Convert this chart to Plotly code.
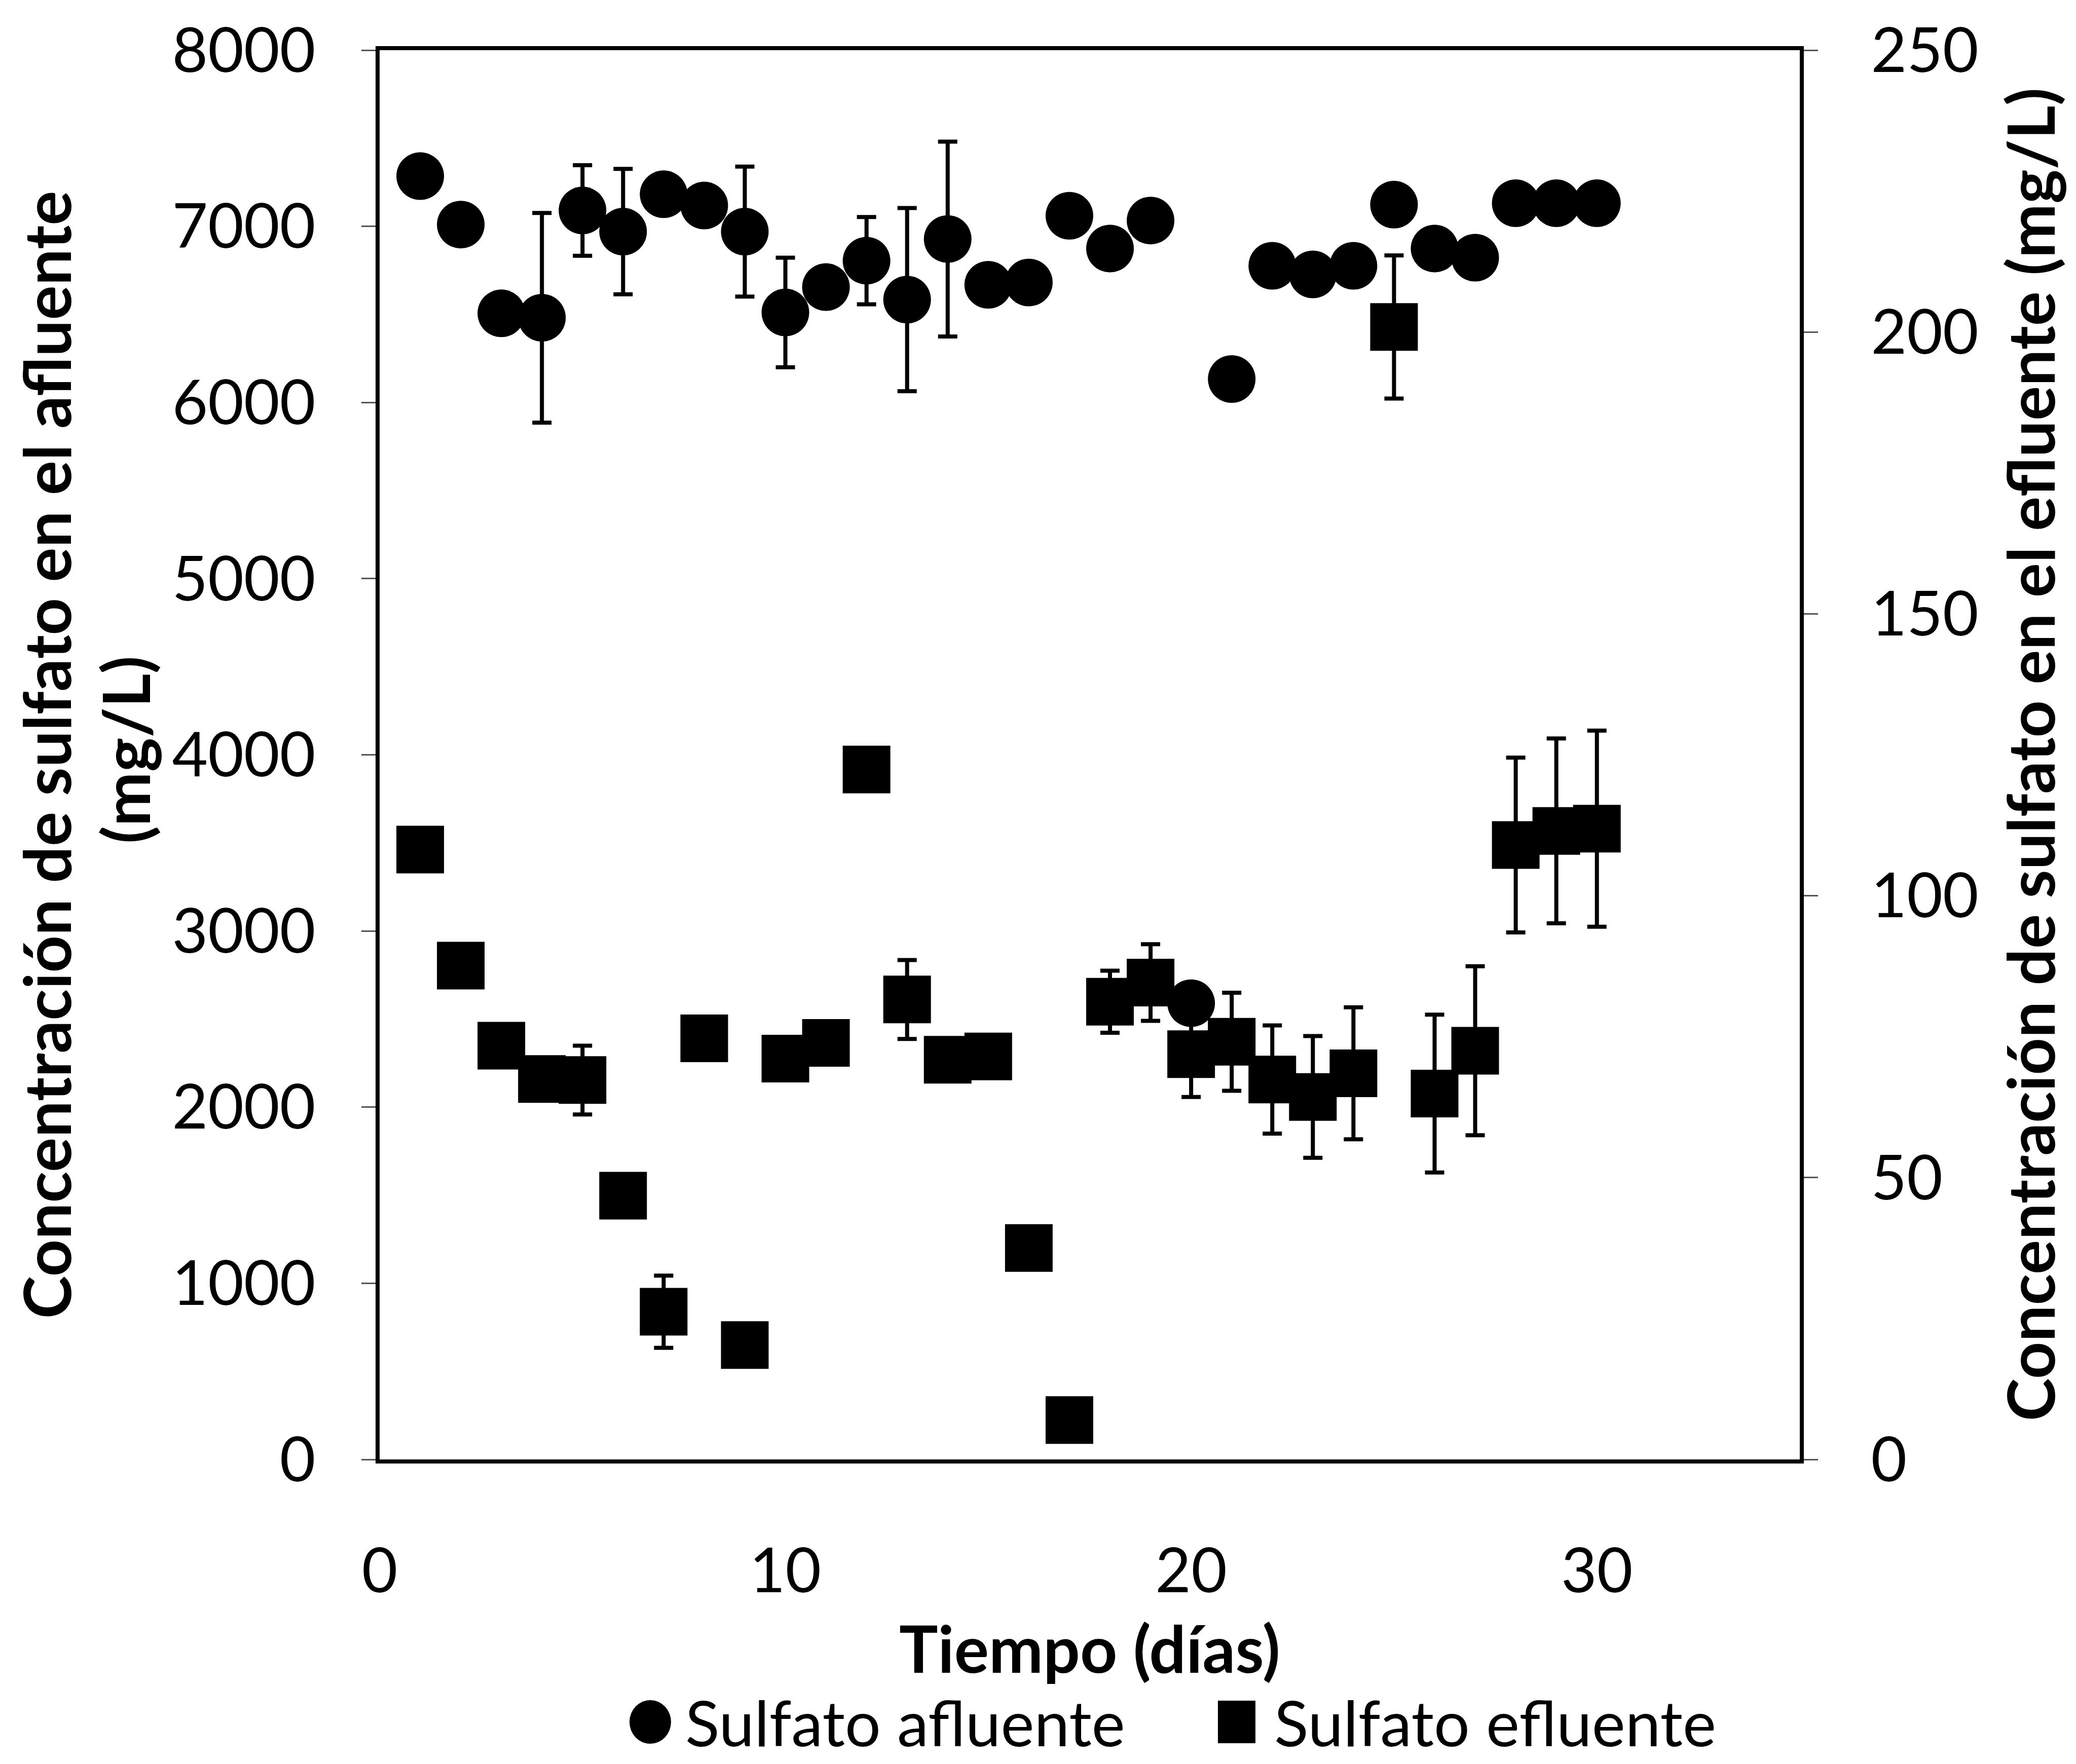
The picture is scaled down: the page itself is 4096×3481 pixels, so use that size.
import plotly.graph_objects as go

# ---------------- data ----------------
days = list(range(1, 31))

afluente = [7285, 7010, 6506, 6481, 7090, 6970, 7182, 7118, 6970, 6511,
            6655, 6805, 6584, 6928, 6668, 6681, 7060, 6874, 7033, 2590,
            6133, 6776, 6727, 6776, 7123, 6874, 6822, 7131, 7131, 7131]
afluente_err = [0, 0, 0, 595, 257, 356, 0, 0, 369, 311,
                0, 248, 520, 553, 0, 0, 0, 0, 0, 0,
                0, 0, 0, 0, 0, 0, 0, 0, 0, 0]

efluente = [108.2, 87.6, 73.4, 67.5, 67.3, 46.8, 26.2, 74.7, 20.3, 71.1,
            73.9, 122.4, 81.6, 70.9, 71.5, 37.5, 7.0, 81.2, 84.6, 71.9,
            74.1, 67.4, 64.3, 68.5, 200.9, 64.9, 72.5, 109.0, 111.5, 111.9]
efluente_err = [0, 0, 0, 0, 6.1, 0, 6.4, 0, 0, 0,
                0, 0, 7.0, 0, 0, 0, 0, 5.5, 6.8, 7.6,
                8.7, 9.6, 10.8, 11.7, 12.7, 14.0, 15.0, 15.5, 16.4, 17.4]

x_ticks = [0, 10, 20, 30]
y1_ticks = [0, 1000, 2000, 3000, 4000, 5000, 6000, 7000, 8000]
y2_ticks = [0, 50, 100, 150, 200, 250]

x_title = "Tiempo (días)"
y1_title_lines = ["Concentración de sulfato en el afluente", "(mg/L)"]
y2_title = "Concentración de sulfato en el efluente (mg/L)"
legend_names = ["Sulfato afluente", "Sulfato efluente"]

# ---------------- figure ----------------
W, H = 4096, 3481
L, R, T, B = 749, 545, 99, 601
pw, ph = W - L - R, H - T - B

FONT = "Lato"
TICK_SIZE = 122
TITLE_SIZE = 128
LEG_SIZE = 125

fig = go.Figure()

fig.add_trace(go.Scatter(
    x=days, y=efluente, mode="markers", name=legend_names[1],
    yaxis="y2",
    marker=dict(symbol="square", size=94, color="black", line=dict(width=0)),
    error_y=dict(type="data", array=efluente_err, visible=True,
                 color="black", thickness=8, width=19),
    showlegend=False,
))

fig.add_trace(go.Scatter(
    x=days, y=afluente, mode="markers", name=legend_names[0],
    marker=dict(symbol="circle", size=94, color="black", line=dict(width=0)),
    error_y=dict(type="data", array=afluente_err, visible=True,
                 color="black", thickness=8, width=19),
    showlegend=False,
))

def px_to_paper_x(px):
    return (px - L) / pw

def px_to_paper_y(py):
    return (H - B - py) / ph

LEG_Y = 3398

annotations = [
    dict(text="<b>" + x_title + "</b>", xref="paper", yref="paper",
         x=0.5, y=px_to_paper_y(3252), xanchor="center", yanchor="middle",
         showarrow=False, font=dict(family=FONT, size=TITLE_SIZE, color="black")),
    dict(text="<b>" + y1_title_lines[0] + "</b>", xref="paper", yref="paper",
         x=px_to_paper_x(90), y=0.5, xanchor="center", yanchor="middle",
         textangle=-90, showarrow=False,
         font=dict(family=FONT, size=TITLE_SIZE, color="black")),
    dict(text="<b>" + y1_title_lines[1] + "</b>", xref="paper", yref="paper",
         x=px_to_paper_x(246), y=px_to_paper_y(1480), xanchor="center", yanchor="middle",
         textangle=-90, showarrow=False,
         font=dict(family=FONT, size=TITLE_SIZE, color="black")),
    dict(text="<b>" + y2_title + "</b>", xref="paper", yref="paper",
         x=px_to_paper_x(4004), y=0.5, xanchor="center", yanchor="middle",
         textangle=-90, showarrow=False,
         font=dict(family=FONT, size=TITLE_SIZE, color="black")),
    dict(text=legend_names[0], xref="paper", yref="paper",
         x=px_to_paper_x(1350), y=px_to_paper_y(LEG_Y), xanchor="left", yanchor="middle",
         showarrow=False, font=dict(family=FONT, size=LEG_SIZE, color="black")),
    dict(text=legend_names[1], xref="paper", yref="paper",
         x=px_to_paper_x(2512), y=px_to_paper_y(LEG_Y), xanchor="left", yanchor="middle",
         showarrow=False, font=dict(family=FONT, size=LEG_SIZE, color="black")),
]

shapes = [
    dict(type="circle", xref="paper", yref="paper",
         x0=px_to_paper_x(1283 - 41), x1=px_to_paper_x(1283 + 41),
         y0=px_to_paper_y(LEG_Y + 43), y1=px_to_paper_y(LEG_Y - 43),
         fillcolor="black", line=dict(width=0)),
    dict(type="rect", xref="paper", yref="paper",
         x0=px_to_paper_x(2440 - 37), x1=px_to_paper_x(2440 + 37),
         y0=px_to_paper_y(LEG_Y + 42), y1=px_to_paper_y(LEG_Y - 42),
         fillcolor="black", line=dict(width=0)),
]

fig.update_layout(
    width=W, height=H,
    margin=dict(l=L, r=R, t=T, b=B, pad=0),
    paper_bgcolor="white", plot_bgcolor="white",
    font=dict(family=FONT, color="black"),
    showlegend=False,
    annotations=annotations,
    shapes=shapes,
    xaxis=dict(
        range=[0, 35], tickvals=x_ticks, ticktext=[str(v) for v in x_ticks],
        showgrid=False, zeroline=False,
        showline=True, linecolor="black", linewidth=8, mirror=True,
        ticks="", ticklabelstandoff=108,
        tickfont=dict(family=FONT, size=TICK_SIZE, color="black"),
    ),
    yaxis=dict(
        range=[0, 8000], tickvals=y1_ticks, ticktext=[str(v) for v in y1_ticks],
        showgrid=False, zeroline=False,
        showline=True, linecolor="black", linewidth=8,
        ticks="outside", ticklen=28, tickwidth=3, tickcolor="#555",
        ticklabelstandoff=66,
        tickfont=dict(family=FONT, size=TICK_SIZE, color="black"),
    ),
    yaxis2=dict(
        range=[0, 250], tickvals=y2_ticks, ticktext=[str(v) for v in y2_ticks],
        overlaying="y", side="right",
        showgrid=False, zeroline=False,
        showline=True, linecolor="black", linewidth=8,
        ticks="outside", ticklen=28, tickwidth=3, tickcolor="#555",
        ticklabelstandoff=80,
        tickfont=dict(family=FONT, size=TICK_SIZE, color="black"),
    ),
)

fig.write_html("out.html")
